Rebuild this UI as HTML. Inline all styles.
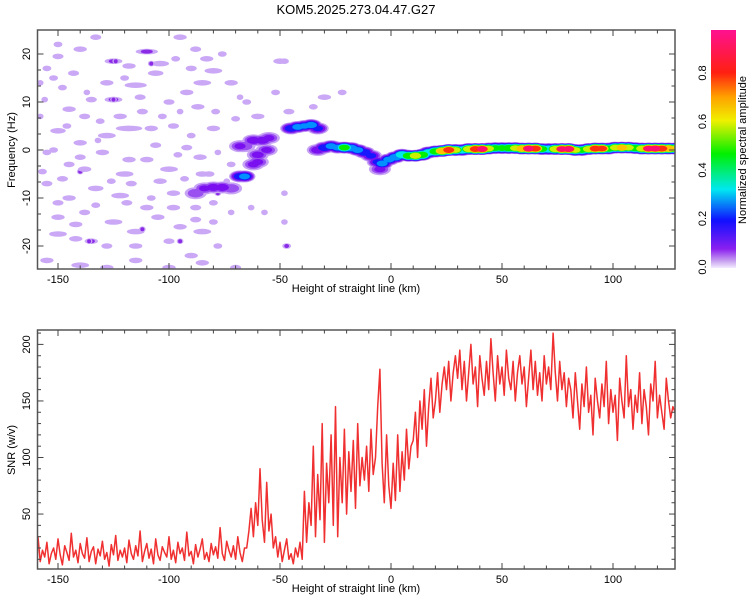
<!DOCTYPE html>
<html><head><meta charset="utf-8"><style>
body{margin:0;background:#fff}
svg{display:block;font-family:"Liberation Sans",sans-serif}
</style></head><body>
<svg id="chart" width="750" height="600" viewBox="0 0 750 600" xmlns="http://www.w3.org/2000/svg">
<defs>
<linearGradient id="cbg" x1="0" y1="1" x2="0" y2="0">
<stop offset="0" stop-color="#f4ecff"/><stop offset="0.03" stop-color="#c8a0f0"/>
<stop offset="0.08" stop-color="#8a20f0"/><stop offset="0.2" stop-color="#1010ff"/>
<stop offset="0.33" stop-color="#00e8f0"/><stop offset="0.48" stop-color="#00f000"/>
<stop offset="0.62" stop-color="#f0f000"/><stop offset="0.72" stop-color="#ffa000"/>
<stop offset="0.82" stop-color="#ff2010"/><stop offset="1" stop-color="#ff1090"/>
</linearGradient>
<clipPath id="clipTop"><rect x="37.5" y="30" width="637.5" height="239"/></clipPath>
<clipPath id="clipBot"><rect x="37.5" y="330" width="637.5" height="239"/></clipPath>
</defs>
<text x="356" y="14" font-size="13" text-anchor="middle">KOM5.2025.273.04.47.G27</text>
<g id="topPanel"></g>
<g id="botPanel"></g>
<g id="cb">
<rect x="711" y="30" width="25" height="238" fill="url(#cbg)"/>
<text transform="translate(746,150) rotate(-90)" font-size="11" text-anchor="middle">Normalized spectral amplitude</text>
</g>
</svg>
<script>
// ---- spectrogram data ----
const trackKm =  [-68,-66,-76,-80,-84,-72,-88,-62,-60,-62,-58,-56,-60,-68,-66,-55,-45,-42,-39,-36,-33,-33,-30,-27,-24,-21,-18,-15,-12,-9,-6,-5,-4,-1,2,5,8,11,14,17,20,23,26,29,32,35,38,41,44,47,50,53,56,59,62,65,68,71,74,77,80,83,86,89,92,95,98,101,104,107,110,113,116,119,122,125,128];
const trackHz =  [-5.5,-5.5,-7.8,-7.8,-8,-8,-9,-3,-1,2,2,0,-2.5,0.8,0.8,2.5,4.5,4.8,5,5.2,4.5,0,0.5,0.8,0.5,0.5,0.4,0,-0.5,-1.2,-2.5,-4,-2.8,-2,-1.5,-1,-1.2,-1.2,-1,-0.5,-0.3,-0.2,0,0,0,0.2,0.2,0.2,0.3,0.4,0.4,0.4,0.4,0.3,0.3,0.3,0.2,0.2,0.2,0.2,0.2,0,0,0.2,0.3,0.3,0.3,0.5,0.5,0.5,0.4,0.3,0.3,0.3,0.3,0.3,0.3];
const trackAmp = [0.25,0.3,0.15,0.15,0.12,0.1,0.1,0.12,0.13,0.15,0.15,0.12,0.12,0.12,0.1,0.12,0.25,0.3,0.28,0.32,0.2,0.15,0.25,0.3,0.3,0.5,0.35,0.3,0.25,0.2,0.2,0.12,0.3,0.3,0.35,0.45,0.55,0.65,0.55,0.4,0.55,0.75,0.85,0.6,0.45,0.65,0.85,0.88,0.6,0.5,0.5,0.55,0.6,0.75,0.88,0.85,0.5,0.45,0.65,0.86,0.88,0.6,0.5,0.65,0.85,0.8,0.55,0.6,0.7,0.6,0.55,0.65,0.86,0.88,0.85,0.75,0.65];
const noiseKm = [-155,-150,-148,-140,-133,-125,-118,-110,-104,-95,-88,-80,-72,-65,-60,-50,-52,-156,-145,-135,-125,-115,-100,-92,-85,-150,-140,-128,-118,-108,-98,-90,-80,-70,-155,-145,-130,-120,-110,-100,-92,-85,-72,-155,-145,-133,-122,-110,-98,-88,-80,-150,-138,-125,-115,-105,-95,-85,-150,-142,-135,-128,-115,-100,-90,-78,-155,-140,-128,-115,-100,-85,-70,-47,-48,-48,-46,-35,-30,-22,-48,-150,-158,-124,-108,-125,-136,-95,-140,-112,-78,
-152,-143,-137,-128,-120,-113,-106,-97,-90,-83,-76,-68,-158,-146,-138,-131,-122,-112,-103,-95,-87,-79,-152,-140,-132,-118,-106,-96,-86,-78,-157,-148,-138,-126,-117,-104,-93,-82,-74,-150,-142,-133,-119,-108,-98,-88,-80,-72,-63,-57];
const noiseHz = [17,19.5,13,21,23.5,18.5,17.5,20.5,18,23.5,21,16.5,14,10,7,18.5,12,10.5,8.5,10.5,10.5,13.5,10,12,14,4,1.5,3,4.5,4.5,5,3,4.5,6.5,-0.5,-3,-0.5,-5,-2,-4,0.5,-5,-3,-7,-10,-8,-9.5,-12,-9,-12,-11,-14,-13,-15,-17,-14,-16,-17,-17.5,-18.5,-19,-20,-20,-19,-22,-20,-23,-24,-24.5,-23,-24.5,-23.5,-24.5,-20,-15,-9,8,9,11,12,18.5,22,14,18.5,18,10.5,-19,-19,-4.5,-16.5,-9,
15,16,12,14,15,11,16,19,17,19,20,11,7,5,7,6,7,8,7,8,9,8,0,-1.5,2,-2,1,-1,-1.5,-0.5,-4.5,-6,-4,-6.5,-7,-6.5,-6,-5,-6.5,-11,-15.5,-11.5,-11,-10,-12,-14.5,-15,-13,-12,-13];
const noiseW =  [4,5,4,6,5,8,6,10,8,6,5,8,6,4,6,6,4,3,6,5,8,10,5,6,8,7,6,8,12,6,5,4,6,4,4,5,6,8,6,8,5,6,4,5,6,7,8,6,6,5,4,6,5,8,8,6,6,8,8,6,6,5,6,5,6,4,6,8,6,6,6,6,5,4,3,3,5,4,6,4,4,4,3,3,3,3,3,3,3,3,3,
4,5,3,6,4,5,7,4,5,6,4,3,3,4,5,4,6,5,4,3,6,4,4,5,3,6,5,4,6,3,4,5,6,4,5,6,4,5,3,5,6,4,5,4,6,5,4,3,3,3];
const noiseAmp = [0,0,0,0,0,0.1,0,0.1,0,0,0,0,0,0,0,0,0,0,0,0,0.1,0,0,0,0,0,0,0,0,0,0,0,0,0,0,0,0,0,0,0,0,0,0,0,0,0,0,0,0,0,0,0,0,0,0,0,0,0,0,0,0.1,0,0,0,0,0,0,0,0,0,0,0,0,0.1,0,0,0,0,0,0,0,0,0,0.1,0.1,0.1,0.1,0.1,0.1,0.1,0.1,
0,0,0,0,0,0,0,0,0,0,0,0,0,0,0,0,0,0,0,0,0,0,0,0,0,0,0,0,0,0,0,0,0,0,0,0,0,0,0,0,0,0,0,0,0,0,0,0,0,0];
const xTicksTop = [-150,-100,-50,0,50,100];
const yTicksTop = [-20,-10,0,10,20];
const cbTicks = [0.0,0.2,0.4,0.6,0.8];
// ---- SNR data ----
const snrStartKm = -159;
const snrStepKm = 1;
const snrValues = [30,8,18,12,25,6,15,20,10,28,14,5,22,16,9,33,12,18,7,24,15,11,29,8,17,21,6,19,13,26,10,16,4,23,14,31,9,18,12,20,7,27,15,10,22,13,35,8,17,24,11,19,6,28,14,9,21,16,12,30,10,18,7,25,15,20,9,34,13,17,6,23,12,19,28,10,16,8,24,14,21,11,38,15,9,26,18,12,22,10,30,16,8,20,
20,35,55,30,60,40,90,45,25,78,35,50,20,30,
12,25,8,18,28,10,15,6,20,12,25,10,
70,25,60,40,110,30,85,45,130,25,95,60,120,40,145,30,100,60,125,50,105,70,115,55,130,75,100,80,110,70,125,85,100,145,
178,95,60,120,75,
55,95,62,120,70,105,80,125,90,110,
115,140,100,150,125,160,110,145,170,135,150,175,140,165,180,160,185,150,175,190,
170,195,160,185,150,175,200,165,180,145,190,170,155,185,160,205,175,150,190,165,180,155,195,170,160,185,150,175,190,165,180,145,170,195,160,185,155,175,150,190,165,180,160,210,175,150,185,160,175,145,170,
160,135,175,150,125,165,145,180,140,155,120,170,150,135,165,145,185,130,160,140,155,115,170,150,135,190,145,160,125,155,140,175,130,160,145,120,165,150,185,135,155,140,125,170,150,135,145,140];
const xTicksBot = [-150,-100,-50,0,50,100];
const yTicksBot = [50,100,150,200];

const NS='http://www.w3.org/2000/svg';
const L=37.5,R=675,TT=30,TB=269,BT=330,BB=569;
const sx=km=>391+2.22*km;
const syT=hz=>150-4.8*hz;
const syB=v=>570.6-1.131*v;
const cbY=v=>267-242.5*v;
function mk(tag,attrs,parent){const e=document.createElementNS(NS,tag);for(const k in attrs)e.setAttribute(k,attrs[k]);parent.appendChild(e);return e;}

const topG=document.getElementById('topPanel');
const botG=document.getElementById('botPanel');

const gS=mk('g',{'clip-path':'url(#clipTop)'},topG);


for(let i=0;i<noiseKm.length;i++){
  const e=mk('ellipse',{cx:sx(noiseKm[i]),cy:syT(noiseHz[i]),rx:noiseW[i]*1.11,ry:2.8,fill:'#caa8f6'},gS);
  
  
  if(noiseAmp[i]>0){
    const c=mk('ellipse',{cx:sx(noiseKm[i]),cy:syT(noiseHz[i]),rx:Math.max(2,noiseW[i]*0.6),ry:2,fill:'#8a2ae6'},gS);
    
    
  }
}
const levels=[0,0.06,0.12,0.2,0.28,0.36,0.46,0.56,0.66,0.76,0.86];
const lcols=['#c8a4f4','#9a50f0','#7a10f0','#1818ff','#0090ff','#00e8e8','#00f000','#c8f000','#ffc000','#ff3010','#ff1070'];
levels.forEach((lv,li)=>{
  for(let i=0;i<trackKm.length;i++){
    const a=trackAmp[i]; if(a<lv) continue;
    const f=1-0.7*(lv/(a+0.02));
    const e=mk('ellipse',{cx:sx(trackKm[i]),cy:syT(trackHz[i]),rx:9*f+2,ry:5*f+1,fill:lcols[li]},gS);
    
    
  }
});

function frame(parent,y0,y1,name){
  const r=mk('rect',{x:L,y:y0,width:R-L,height:y1-y0,fill:'none',stroke:'#555','stroke-width':1.5},parent);
  
  
}
function xAxis(parent,y0,y1,ticks,nameP){
  for(let k=-150;k<=120;k+=10){
    const x=sx(k),maj=k%50===0,len=maj?6:3.5;
    mk('line',{x1:x,x2:x,y1:y1,y2:y1-len,stroke:'#444'},parent);
    mk('line',{x1:x,x2:x,y1:y0,y2:y0+len,stroke:'#444'},parent);
  }
  ticks.forEach(t=>{
    const tx=mk('text',{x:sx(t),y:y1+14,'font-size':11,'text-anchor':'middle'},parent);
    tx.textContent=t;
    
    
  });
  const ti=mk('text',{x:356,y:y1+23,'font-size':11,'text-anchor':'middle'},parent);
  ti.textContent='Height of straight line (km)';
  
  
}
frame(topG,TT,TB,'spectrogram-frame');
xAxis(topG,TT,TB,xTicksTop,'spectrogram');
for(let h=-20;h<=20.01;h+=10/3){
  const y=syT(h),maj=Math.abs(h-Math.round(h/10)*10)<0.01,len=maj?6:3.5;
  mk('line',{x1:L,x2:L+len,y1:y,y2:y,stroke:'#444'},topG);
  mk('line',{x1:R,x2:R-len,y1:y,y2:y,stroke:'#444'},topG);
}
yTicksTop.forEach(t=>{
  const tx=mk('text',{transform:`translate(30,${syT(t)}) rotate(-90)`,'font-size':11,'text-anchor':'middle'},topG);
  tx.textContent=t;
  
  
});
const yt=mk('text',{transform:'translate(15,150) rotate(-90)','font-size':11,'text-anchor':'middle'},topG);
yt.textContent='Frequency (Hz)';



const cbG=document.getElementById('cb');
cbTicks.forEach(t=>{
  const tx=mk('text',{transform:`translate(706,${cbY(t)}) rotate(-90)`,'font-size':11,'text-anchor':'middle'},cbG);
  tx.textContent=t.toFixed(1);
  
  
});

const gL=mk('g',{'clip-path':'url(#clipBot)'},botG);
let d='';
snrValues.forEach((v,i)=>{const km=snrStartKm+i*snrStepKm;d+=(i?'L':'M')+sx(km).toFixed(1)+','+syB(v).toFixed(1);});
const snrLine=mk('path',{d:d,fill:'none',stroke:'#f03030','stroke-width':1.5,'stroke-linejoin':'round'},gL);


frame(botG,BT,BB,'snr-frame');
xAxis(botG,BT,BB,xTicksBot,'snr');
for(let v=10;v<=210;v+=10){
  const y=syB(v),len=v%50===0?6:3.5;
  mk('line',{x1:L,x2:L+len,y1:y,y2:y,stroke:'#444'},botG);
  mk('line',{x1:R,x2:R-len,y1:y,y2:y,stroke:'#444'},botG);
}
yTicksBot.forEach(t=>{
  const tx=mk('text',{transform:`translate(30,${syB(t)}) rotate(-90)`,'font-size':11,'text-anchor':'middle'},botG);
  tx.textContent=t;
  
  
});
const yb=mk('text',{transform:'translate(15,450) rotate(-90)','font-size':11,'text-anchor':'middle'},botG);
yb.textContent='SNR (w/v)';


</script>
</body></html>
